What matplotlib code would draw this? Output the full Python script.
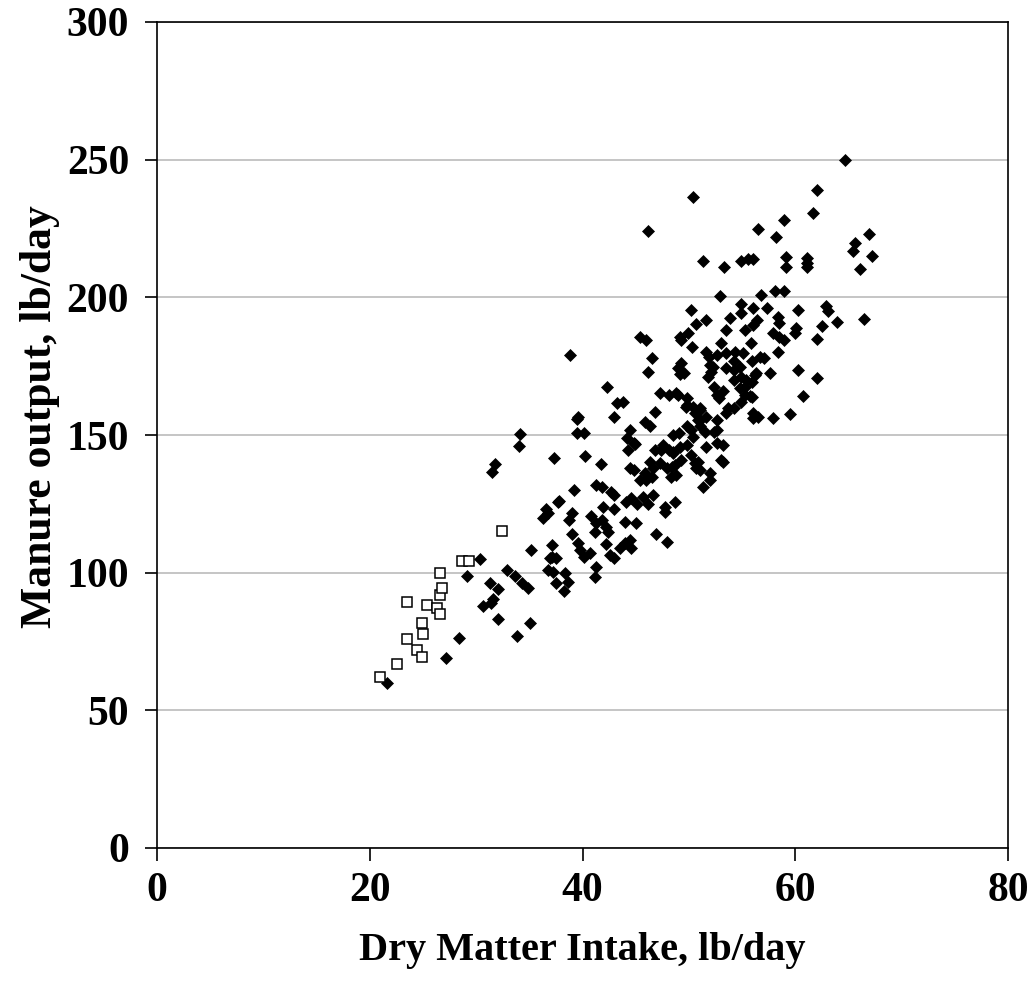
import matplotlib
matplotlib.use("Agg")
import matplotlib.pyplot as plt

# Open squares (heifers)
sq_x = [20.96, 22.53, 23.47, 24.41, 24.88, 23.47, 24.88, 25.03, 25.35, 26.29,
        26.6, 26.6, 26.76, 26.6, 28.64, 29.3, 32.45]
sq_y = [62.1, 66.9, 76.0, 71.8, 69.4, 89.5, 81.6, 77.8, 88.3, 87.1,
        85.1, 92.0, 94.5, 99.9, 104.3, 104.3, 115.3]

# Filled diamonds (cows)
dm = [
    (21.65, 59.8), (27.16, 68.9), (28.4, 76.4), (30.36, 105.1), (29.1, 98.9), (31.3, 96.1),
    (32.08, 94.2), (31.6, 90.5), (30.67, 87.9), (31.4, 89.1), (32.08, 83.0), (33.8, 77.0),
    (35.06, 81.8), (32.9, 101.0), (33.65, 98.9), (34.27, 96.1), (34.9, 94.6), (35.2, 108.1),
    (37.1, 110.1), (36.9, 105.2), (37.5, 105.5), (36.8, 101.0), (37.2, 100.3), (37.5, 96.1),
    (36.3, 119.7), (36.8, 121.5), (36.6, 123.3), (37.7, 125.7), (38.3, 93.5), (38.6, 96.5),
    (34.1, 150.4), (34.0, 146.0), (31.8, 139.5), (31.5, 136.7), (37.3, 141.8), (42.3, 167.6),
    (39.5, 155.8), (39.5, 150.9), (40.1, 150.9), (40.2, 142.4), (41.7, 139.3), (39.2, 130.2),
    (37.8, 126.0), (37.1, 105.8), (38.4, 99.7), (39.0, 121.5), (38.7, 119.1), (39.0, 114.2),
    (39.6, 110.6), (39.8, 108.2), (40.1, 105.8), (40.7, 107.0), (41.3, 102.1), (41.2, 98.5),
    (40.8, 120.6), (41.2, 114.9), (41.3, 117.9), (41.8, 119.1), (41.9, 123.9), (42.2, 116.7),
    (42.4, 114.9), (42.2, 110.4), (41.3, 131.9), (41.8, 131.2), (42.7, 129.4), (43.0, 128.2),
    (43.0, 123.0), (44.0, 118.5), (45.0, 117.9), (42.6, 106.4), (43.0, 105.2), (43.5, 108.8),
    (44.0, 110.6), (44.5, 111.9), (44.6, 108.8), (44.1, 125.7), (44.6, 127.0), (45.1, 125.1),
    (45.7, 127.6), (46.2, 124.9), (46.6, 128.2), (45.4, 133.7), (46.0, 133.7), (46.5, 134.9),
    (46.6, 137.9), (45.9, 136.1), (44.5, 138.1), (44.8, 137.3), (44.3, 144.6), (44.8, 147.0),
    (44.5, 151.8), (44.2, 148.8), (45.9, 154.8), (46.3, 153.1), (46.8, 158.5), (47.3, 165.1),
    (48.1, 164.5), (48.8, 165.1), (43.0, 156.6), (43.2, 161.5), (43.8, 162.1), (47.6, 146.4),
    (46.8, 144.6), (47.4, 144.6), (48.1, 144.6), (48.5, 143.9), (46.3, 140.3), (47.3, 139.7),
    (47.9, 137.9), (48.4, 138.5), (48.8, 135.5), (48.3, 134.8), (47.8, 123.9), (47.8, 122.1),
    (48.7, 125.7), (46.9, 114.2), (47.9, 111.0), (49.1, 150.6), (38.8, 179.1), (45.4, 185.7),
    (46.0, 184.5), (46.2, 224.2), (46.5, 177.8), (46.2, 173.0), (49.0, 174.2), (49.3, 176.0),
    (49.2, 172.2), (49.3, 184.5), (50.3, 182.1), (53.0, 183.3), (55.8, 183.5), (39.6, 156.4),
    (44.9, 146.7), (49.0, 164.5), (49.8, 163.3), (49.7, 160.3), (50.4, 160.3), (50.6, 157.9),
    (51.0, 159.7), (51.6, 156.6), (50.9, 155.5), (49.8, 153.1), (50.2, 151.8), (51.0, 153.1),
    (51.5, 151.2), (50.4, 149.4), (49.8, 146.4), (48.5, 150.0), (49.2, 145.8), (48.5, 143.3),
    (48.7, 139.1), (49.3, 140.9), (50.2, 142.7), (51.6, 145.8), (52.6, 147.0), (53.2, 146.4),
    (53.2, 140.3), (52.4, 151.2), (50.9, 140.3), (50.7, 137.9), (52.0, 136.1), (51.0, 137.3),
    (50.6, 139.7), (51.3, 131.0), (52.0, 133.5),
    (51.6, 180.3), (51.9, 178.5), (52.6, 179.1), (53.5, 179.7), (54.3, 180.3), (55.1, 179.9),
    (55.9, 176.7), (54.2, 176.7), (52.0, 175.5), (52.1, 173.0), (51.8, 171.2), (52.4, 167.6),
    (52.6, 164.5), (53.2, 165.8), (53.5, 174.2), (54.2, 173.6), (54.8, 174.8), (54.9, 171.2),
    (54.2, 170.0), (55.4, 170.0), (56.2, 171.8), (54.8, 167.0), (55.3, 164.5), (55.9, 163.9),
    (53.5, 157.9), (54.2, 159.7), (56.0, 157.9), (56.0, 156.0), (56.7, 178.2), (57.1, 177.8),
    (57.6, 172.4), (60.3, 173.6), (62.0, 170.6), (60.7, 164.0), (59.5, 157.6), (57.9, 156.0),
    (56.5, 156.6), (56.3, 172.4), (55.9, 169.4), (55.3, 167.6), (55.7, 164.0), (54.9, 162.1),
    (52.3, 174.8), (52.8, 163.3), (53.7, 159.7), (49.5, 172.4), (49.8, 160.9), (51.0, 159.1),
    (51.0, 155.5), (52.6, 155.5), (52.6, 151.8), (53.0, 140.9), (58.9, 184.5), (58.4, 180.3),
    (64.7, 249.9), (62.0, 239.0), (61.7, 230.5), (58.9, 228.1), (58.2, 221.8), (56.5, 225.0),
    (59.1, 214.8), (59.1, 210.9), (61.1, 214.2), (61.1, 212.6), (61.1, 211.1), (65.6, 219.9),
    (65.4, 217.0), (66.9, 223.0), (67.2, 215.1), (66.1, 210.3), (58.1, 202.3), (58.9, 202.3),
    (56.8, 200.9), (57.3, 196.3), (58.4, 193.0), (58.5, 190.5), (60.3, 195.4), (62.9, 196.8),
    (63.1, 195.0), (63.9, 191.2), (62.5, 189.6), (66.5, 192.3), (60.1, 188.7), (60.0, 186.9),
    (57.9, 186.9), (58.5, 185.7), (62.0, 184.7), (50.4, 236.6), (51.3, 213.3), (53.3, 210.9),
    (54.9, 213.3), (55.6, 213.9), (56.0, 213.9), (52.9, 200.6), (50.2, 195.4), (50.7, 190.2),
    (51.6, 191.8), (53.9, 192.6), (54.9, 197.4), (54.9, 194.2), (56.0, 196.3), (56.4, 191.8),
    (56.0, 190.0), (55.3, 188.0), (53.5, 188.0), (49.9, 187.2), (49.2, 185.5),
]
dm_x = [p[0] for p in dm]
dm_y = [p[1] for p in dm]

x_ticks = [0, 20, 40, 60, 80]
y_ticks = [0, 50, 100, 150, 200, 250, 300]

plt.rcParams['font.family'] = ['Liberation Serif', 'DejaVu Serif']
plt.rcParams['font.weight'] = 'bold'

fig = plt.figure(figsize=(10.34, 10.0), dpi=100)
ax = fig.add_axes([157/1034, 1 - 848/1000, (1008 - 157)/1034, (848 - 22)/1000])

ax.set_xlim(0, 80)
ax.set_ylim(0, 300)
ax.set_xticks(x_ticks)
ax.set_yticks(y_ticks)
ax.yaxis.grid(True, color='#c0c0c0', linewidth=1.3)
ax.set_axisbelow(True)

ax.plot(dm_x, dm_y, linestyle='none', marker='D', ms=6.6, color='black',
        markeredgecolor='black', mew=0.5, zorder=3)
ax.plot(sq_x, sq_y, linestyle='none', marker='s', ms=6.6, markerfacecolor='white',
        markeredgecolor='black', mew=1.1, zorder=4)

for s in ax.spines.values():
    s.set_linewidth(1.2)
    s.set_color('black')

ax.tick_params(axis='both', direction='out', length=9, width=1.2, labelsize=30)
ax.tick_params(axis='y', pad=11)
ax.tick_params(axis='x', pad=8)
for lbl in ax.get_xticklabels() + ax.get_yticklabels():
    lbl.set_fontweight('bold')

ax.set_xlabel('Dry Matter Intake, lb/day', fontsize=29, fontweight='bold', labelpad=16)
ax.set_ylabel('Manure output, lb/day', fontsize=31.5, fontweight='bold', labelpad=5)
ax.yaxis.label.set_y(0.522)

fig.savefig('out.png', dpi=100)
